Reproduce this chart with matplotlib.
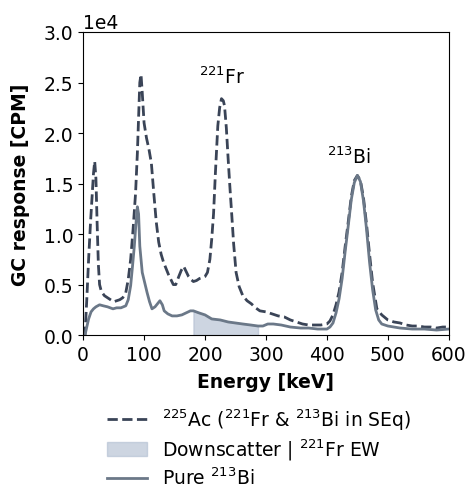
import numpy as np
import matplotlib.pyplot as plt

# 225Ac spectrum (221Fr & 213Bi in SEq), counts in units of 1e4 CPM
ac_energy = [0, 3, 6, 9, 12, 15, 17, 19, 21, 23, 25, 27, 30, 35, 40, 45, 50, 55, 60, 65,
             70, 74, 78, 82, 86, 89, 91, 93, 95, 97, 100, 104, 108, 112, 116, 120, 124, 128,
             132, 136, 140, 144, 148, 152, 157, 161, 165, 169, 173, 177, 181, 186, 191, 196,
             200, 204, 208, 211, 214, 217, 221, 224, 227, 230, 232, 235, 238, 241, 244, 247,
             251, 256, 262, 269, 276, 283, 290, 300, 310, 320, 330, 340, 350, 360, 370, 380,
             390, 400, 405, 410, 415, 420, 425, 430, 435, 440, 445, 450, 455, 460, 465, 470,
             475, 482, 490, 500, 510, 520, 530, 540, 550, 560, 570, 580, 590, 600]
ac_counts = [0, 0, 0.35, 0.75, 1.1, 1.4, 1.6, 1.72, 1.55, 1.1, 0.7, 0.5, 0.43, 0.39, 0.37,
             0.35, 0.33, 0.34, 0.35, 0.37, 0.42, 0.55, 0.75, 1.05, 1.4, 1.8, 2.15, 2.5, 2.58,
             2.4, 2.1, 1.95, 1.84, 1.7, 1.4, 1.12, 0.92, 0.8, 0.72, 0.66, 0.6, 0.55, 0.5, 0.5,
             0.58, 0.64, 0.68, 0.63, 0.58, 0.55, 0.53, 0.54, 0.56, 0.57, 0.58, 0.62, 0.75, 0.95,
             1.2, 1.6, 2.07, 2.25, 2.34, 2.32, 2.27, 2.05, 1.74, 1.45, 1.18, 0.9, 0.62, 0.48,
             0.39, 0.34, 0.31, 0.27, 0.24, 0.23, 0.21, 0.19, 0.18, 0.15, 0.13, 0.11, 0.1, 0.1,
             0.1, 0.11, 0.14, 0.2, 0.3, 0.43, 0.62, 0.88, 1.12, 1.37, 1.53, 1.58, 1.53, 1.36,
             1.1, 0.8, 0.52, 0.26, 0.2, 0.15, 0.13, 0.12, 0.1, 0.09, 0.09, 0.08, 0.08, 0.07,
             0.08, 0.08]

# pure 213Bi spectrum
bi_energy = [0, 3, 6, 9, 13, 17, 21, 27, 33, 40, 49, 55, 62, 70, 74, 78, 81, 84, 86, 88,
             89, 91, 93, 95, 97, 101, 105, 109, 113, 118, 122, 126, 130, 133, 139, 146, 154,
             162, 169, 176, 181, 190, 200, 211, 225, 238, 250, 262, 275, 287, 295, 303, 312,
             325, 340, 357, 370, 385, 400, 405, 410, 415, 420, 425, 430, 435, 440, 445, 450,
             455, 460, 465, 470, 475, 480, 485, 490, 500, 520, 540, 560, 580, 600]
bi_counts = [0, 0, 0.08, 0.16, 0.23, 0.26, 0.28, 0.3, 0.29, 0.28, 0.26, 0.27, 0.27, 0.29,
             0.35, 0.49, 0.68, 0.88, 1.05, 1.2, 1.27, 1.2, 0.88, 0.75, 0.62, 0.52, 0.42, 0.33,
             0.26, 0.28, 0.31, 0.34, 0.3, 0.24, 0.21, 0.19, 0.19, 0.2, 0.22, 0.24, 0.24, 0.22,
             0.2, 0.16, 0.15, 0.13, 0.12, 0.11, 0.1, 0.09, 0.09, 0.11, 0.11, 0.1, 0.08, 0.07,
             0.07, 0.06, 0.06, 0.08, 0.12, 0.22, 0.36, 0.56, 0.83, 1.08, 1.34, 1.51, 1.58,
             1.52, 1.33, 1.05, 0.72, 0.45, 0.25, 0.15, 0.11, 0.09, 0.07, 0.06, 0.06, 0.05,
             0.06]

ew_window = (180, 293)  # 221Fr energy window (keV)

ac_e = np.array(ac_energy)
ac_c = np.array(ac_counts) * 1e4
bi_e = np.array(bi_energy)
bi_c = np.array(bi_counts) * 1e4

plt.rcParams['font.family'] = 'DejaVu Sans'
plt.rcParams['font.size'] = 13.5

fig = plt.figure(figsize=(4.67, 4.85), dpi=100)
ax = fig.add_axes([0.178, 0.307, 0.783, 0.625])

dash_color = '#3a4457'
solid_color = '#6b7888'
fill_color = '#b3bfd2'

ax.plot(ac_e, ac_c, '--', color=dash_color, lw=2.0,
        label=r'$^{225}$Ac ($^{221}$Fr & $^{213}$Bi in SEq)')
in_win = (bi_e >= ew_window[0]) & (bi_e <= ew_window[1])
ax.fill_between(bi_e, 0, bi_c, where=in_win, color=fill_color, alpha=0.65,
                label=r'Downscatter | $^{221}$Fr EW')
ax.plot(bi_e, bi_c, '-', color=solid_color, lw=2.0, label=r'Pure $^{213}$Bi')

ax.text(228, 2.56e4, r'$^{221}$Fr', ha='center', va='center')
ax.text(437, 1.77e4, r'$^{213}$Bi', ha='center', va='center')

ax.set_xlim(0, 600)
ax.set_ylim(0, 3.0e4)
ax.set_xticks([0, 100, 200, 300, 400, 500, 600])
ax.set_yticks([0, 0.5e4, 1.0e4, 1.5e4, 2.0e4, 2.5e4, 3.0e4])
ax.ticklabel_format(axis='y', style='sci', scilimits=(0, 0))
ax.set_xlabel('Energy [keV]', fontweight='bold', labelpad=6)
ax.set_ylabel('GC response [CPM]', fontweight='bold', labelpad=10)

fig.legend(loc='upper left', bbox_to_anchor=(0.214, 0.176), frameon=False,
           handlelength=2.1, labelspacing=0.26, borderaxespad=0.0)

fig.savefig('out.png', dpi=100)
